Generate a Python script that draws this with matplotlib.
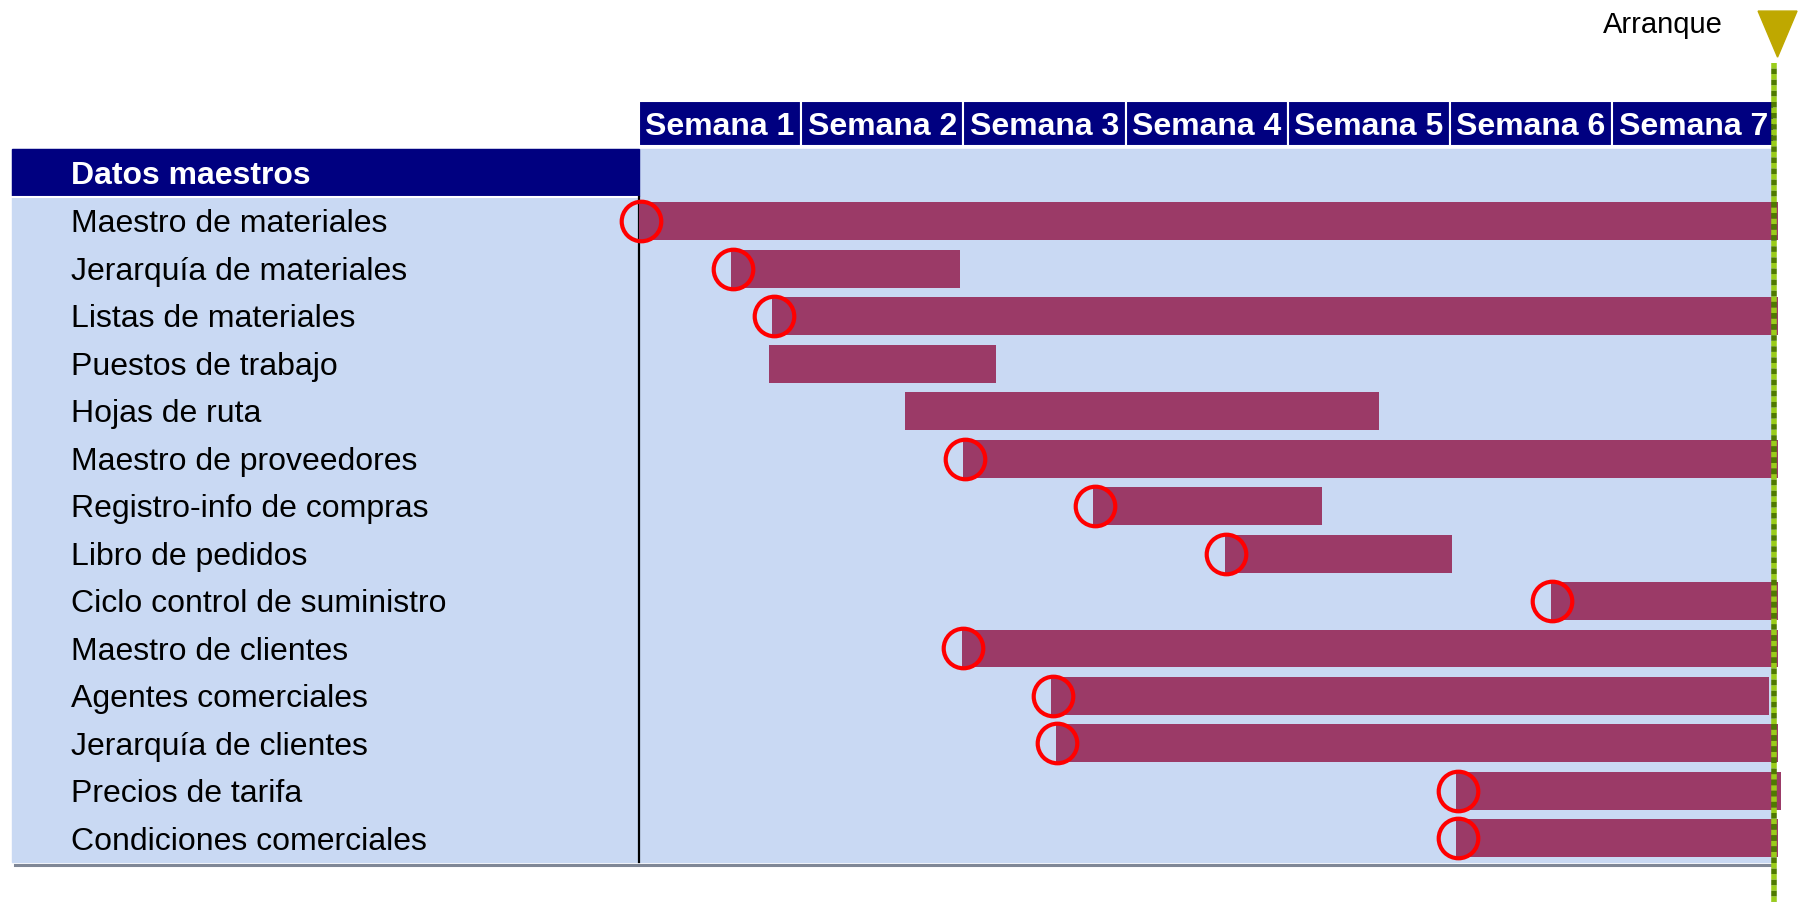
import matplotlib.pyplot as plt
from matplotlib.patches import Rectangle, Polygon

plt.rcParams['font.family'] = ['Liberation Sans', 'DejaVu Sans']

section = "Datos maestros"
tasks = ["Maestro de materiales", "Jerarquía de materiales", "Listas de materiales",
         "Puestos de trabajo", "Hojas de ruta", "Maestro de proveedores",
         "Registro-info de compras", "Libro de pedidos", "Ciclo control de suministro",
         "Maestro de clientes", "Agentes comerciales", "Jerarquía de clientes",
         "Precios de tarifa", "Condiciones comerciales"]
start = [0.0, 0.57, 0.82, 0.80, 1.64, 2.00, 2.80, 3.61, 5.62, 1.99, 2.54, 2.57, 5.04, 5.04]
end = [7.02, 1.98, 7.02, 2.20, 4.56, 7.02, 4.21, 5.01, 7.02, 7.02, 6.97, 7.02, 7.04, 7.02]
milestone = [True, True, True, False, False, True, True, True, True, True, True, True, True, True]
weeks = ["Semana 1", "Semana 2", "Semana 3", "Semana 4", "Semana 5", "Semana 6", "Semana 7"]
golive = 7.0
golive_label = "Arranque"

navy = '#000080'
light = '#C9D9F3'
bar_col = '#9B3A67'

fig = plt.figure(figsize=(17.98, 9.02), dpi=100)
ax = fig.add_axes([0, 0, 1, 1])
ax.set_xlim(-3.94, 7.146)
ax.set_ylim(15.337, -3.653)
ax.axis('off')

left = -3.866
rows = list(range(1, len(tasks) + 1))
dy = 0.07  # nudge text down a bit to sit like the reference

# background panel
ax.add_patch(Rectangle((left, -0.52), golive - left, 15.01, color=light, zorder=0))
ax.plot([left + 0.02, golive], [14.56, 14.56], color='#7F8796', lw=2.2, zorder=1)

# section band
ax.add_patch(Rectangle((left, -0.52), -left, 1.0, color=navy, zorder=1))
ax.plot([left, 0], [0.49, 0.49], color='white', lw=1.5, zorder=2)
ax.text(-3.5, -0.02 + dy, section, color='white', fontsize=23, fontweight='bold',
        va='center', ha='left', zorder=3)

# week header
for k, w in enumerate(weeks):
    ax.add_patch(Rectangle((k, -1.53), 1, 0.96, facecolor=navy, edgecolor='white',
                           lw=1.5, zorder=1))
    ax.text(k + 0.5, -1.05 + dy, w, color='white', fontsize=23, fontweight='bold',
            ha='center', va='center', zorder=2)

# divider
ax.plot([0, 0], [0.5, 14.49], color='black', lw=1.6, zorder=2)

# task labels
for r, t in zip(rows, tasks):
    ax.text(-3.5, r + dy, t, fontsize=23, va='center', ha='left', zorder=3)

# bars
widths = [e - s for s, e in zip(start, end)]
ax.barh(rows, widths, left=start, height=0.8, color=bar_col, zorder=3)

# milestone circles
ms_x = [s + 0.01 for s, m in zip(start, milestone) if m]
ms_y = [r for r, m in zip(rows, milestone) if m]
ax.plot(ms_x, ms_y, 'o', ms=28.5, mfc='none', mec='#FF0000', mew=3.0, zorder=4, ls='none')

# go-live line (two-tone dotted)
ax.plot([golive, golive], [-2.33, 15.337], color='#9ACD1A', lw=4,
        ls=(0, (1.0, 1.0)), zorder=5)
ax.plot([golive, golive], [-2.33, 15.337], color='#4F7A00', lw=4,
        ls=(1.0, (1.0, 1.0)), zorder=5)

ax.add_patch(Polygon([[golive - 0.1, -3.42], [golive + 0.14, -3.42], [golive + 0.02, -2.45]],
                     closed=True, color='#BFA800', zorder=5))
ax.text(6.31, -3.19 + dy, golive_label, fontsize=21, ha='center', va='center')

fig.savefig('out.png', dpi=100)
